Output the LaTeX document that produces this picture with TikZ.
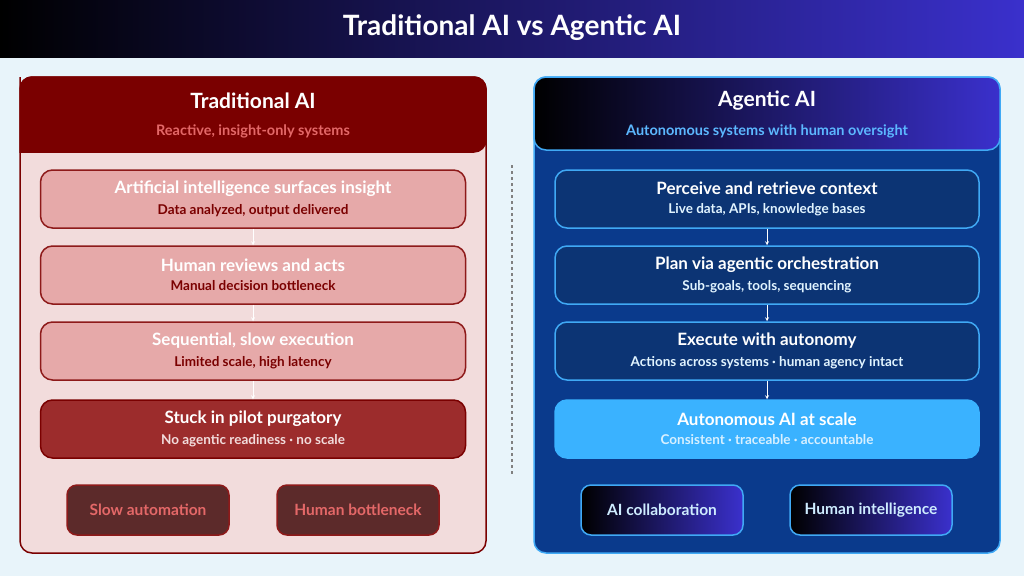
\documentclass[tikz,border=0pt]{standalone}
\usepackage{fontspec}
\setmainfont{Lato}
\usetikzlibrary{positioning}
\definecolor{bgBlue}{HTML}{E8F4FA}
\definecolor{darkRed}{HTML}{7A0000}
\definecolor{midRed}{HTML}{8E1A1A}
\definecolor{paleRed}{HTML}{E6A9A9}
\definecolor{panelRed}{HTML}{F2DCDC}
\definecolor{stuckRed}{HTML}{9C2C2C}
\definecolor{btnRed}{HTML}{5C2A2A}
\definecolor{txtRed}{HTML}{E46868}
\definecolor{navy}{HTML}{0A3A8C}
\definecolor{stepBlue}{HTML}{0C3474}
\definecolor{edgeBlue}{HTML}{40A9F5}
\definecolor{skyBlue}{HTML}{3AB2FF}
\definecolor{violet}{HTML}{3A30CC}
\definecolor{subBlue}{HTML}{5CB8FF}
\newcommand{\headFont}{\bfseries\fontsize{17}{20}\selectfont}
\newcommand{\subFont}{\bfseries\fontsize{13.5}{16}\selectfont}
\tikzset{
    panel/.style = {draw=#1, line width=1.5pt, rounded corners=12pt},
    stepR/.style = {draw=midRed, line width=1.5pt, fill=paleRed, rounded corners=12pt,
                    minimum width=425pt, minimum height=58pt, align=center, inner sep=0pt},
    stepB/.style = {draw=edgeBlue, line width=1.5pt, fill=stepBlue, rounded corners=12pt,
                    minimum width=424pt, minimum height=58pt, align=center, inner sep=0pt},
    btn/.style = {line width=1.5pt, rounded corners=10pt, minimum width=162pt,
                  minimum height=50pt, font=\bfseries\fontsize{15.5}{18}\selectfont},
    flow/.style = {white, line width=0.8pt, -{stealth}}
}
\begin{document}
\begin{tikzpicture}[x=1pt, y=-1pt]
    % background and banner
    \fill[bgBlue] (0,0) rectangle (1024,576);
    \shade[left color=black, right color=violet] (0,0) rectangle (1024,57);
    \node[white, font=\bfseries\fontsize{28}{32}\selectfont] (title) at (512,28) {Traditional AI vs Agentic AI};

    % left panel
    \filldraw[panel=darkRed, fill=panelRed] (20,77) rectangle (486,553);
    \filldraw[panel=darkRed, fill=darkRed] (20,152) -- (20,89) [rounded corners=12pt] -- (20,77) -- (486,77) -- (486,152) [sharp corners] -- cycle;
    \node[white, font=\bfseries\fontsize{21}{25}\selectfont] (tradHead) at (253,101) {Traditional AI};
    \node[txtRed, font=\bfseries\fontsize{14.5}{17}\selectfont] (tradSub) at (253,131) {Reactive, insight-only systems};

    \node[stepR] (t1) at (253,199) {{\headFont\color{white}Artificial intelligence surfaces insight}\\[7pt]{\subFont\color{darkRed}Data analyzed, output delivered}};
    \node[stepR] (t2) at (253,275) {{\headFont\color{white}Human reviews and acts}\\[7pt]{\subFont\color{darkRed}Manual decision bottleneck}};
    \node[stepR] (t3) at (253,351) {{\headFont\color{white}Sequential, slow execution}\\[7pt]{\subFont\color{darkRed}Limited scale, high latency}};
    \node[stepR, fill=stuckRed, draw=darkRed] (t4) at (253,429) {{\headFont\color{white}Stuck in pilot purgatory}\\[7pt]{\subFont\color{panelRed}No agentic readiness · no scale}};
    \draw[flow] (t1) -- (t2);
    \draw[flow] (t2) -- (t3);
    \draw[flow] (t3) -- (t4);

    \node[btn, draw=midRed, fill=btnRed, text=txtRed] (slowAuto) at (148,510) {Slow automation};
    \node[btn, draw=midRed, fill=btnRed, text=txtRed] (humBottle) at (358,510) {Human bottleneck};

    % divider
    \draw[gray, dashed, line width=1.5pt] (512,165) -- (512,476);

    % right panel
    \filldraw[panel=edgeBlue, fill=navy] (534,77) rectangle (1000,553);
    \shade[left color=black, right color=violet, rounded corners=12pt] (534,77) rectangle (1000,150);
    \draw[panel=edgeBlue] (534,77) rectangle (1000,150);
    \node[white, font=\bfseries\fontsize{21}{25}\selectfont] (agentHead) at (767,101) {Agentic AI};
    \node[subBlue, font=\bfseries\fontsize{14.5}{17}\selectfont] (agentSub) at (767,131) {Autonomous systems with human oversight};

    \node[stepB] (a1) at (767,199) {{\headFont\color{white}Perceive and retrieve context}\\[7pt]{\subFont\color{white!85!skyBlue}Live data, APIs, knowledge bases}};
    \node[stepB] (a2) at (767,275) {{\headFont\color{white}Plan via agentic orchestration}\\[7pt]{\subFont\color{white!85!skyBlue}Sub-goals, tools, sequencing}};
    \node[stepB] (a3) at (767,351) {{\headFont\color{white}Execute with autonomy}\\[7pt]{\subFont\color{white!85!skyBlue}Actions across systems · human agency intact}};
    \node[stepB, fill=skyBlue, draw=skyBlue] (a4) at (767,429) {{\headFont\color{white}Autonomous AI at scale}\\[7pt]{\subFont\color{white!80!skyBlue}Consistent · traceable · accountable}};
    \draw[flow] (a1) -- (a2);
    \draw[flow] (a2) -- (a3);
    \draw[flow] (a3) -- (a4);

    \node[btn, draw=edgeBlue, left color=black, right color=violet, text=white!75!skyBlue] (aiCollab) at (662,510) {AI collaboration};
    \node[btn, draw=edgeBlue, left color=black, right color=violet, text=white!75!skyBlue] (humIntel) at (871,510) {Human intelligence};
\end{tikzpicture}
\end{document}
